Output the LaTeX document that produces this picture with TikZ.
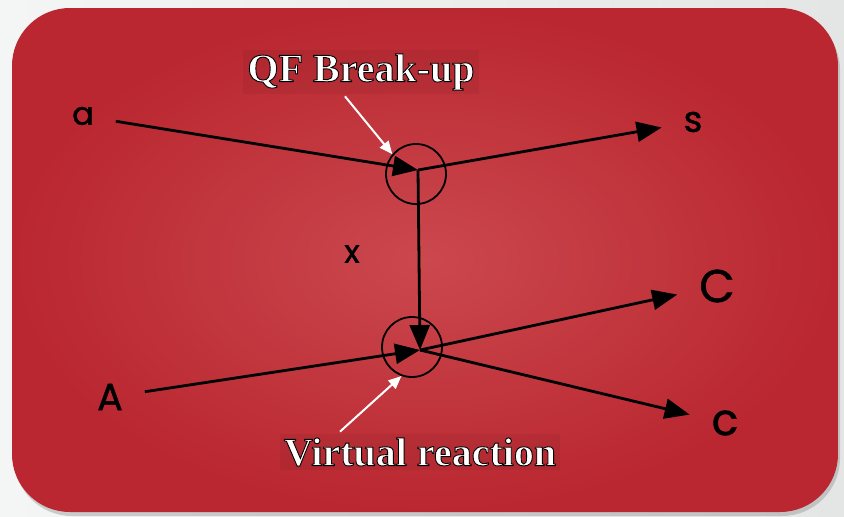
\documentclass[tikz,border=0pt]{standalone}
\usepackage{fontspec}
\setmainfont{Liberation Serif}
\newfontfamily\handfont{Poppins}[FakeBold=1.2]
\usetikzlibrary{arrows.meta, positioning, shadows}

\definecolor{slidegray}{HTML}{E4E6E6}
\definecolor{boxred}{HTML}{BA2730}
\definecolor{boxredlight}{HTML}{CB484E}

% white letters with a black outline
\newcommand{\outlined}[1]{\textcolor{white}{\special{pdf:literal direct 0 G 0.9 w 2 Tr}#1\special{pdf:literal direct 0 Tr}}}

\begin{document}
\begin{tikzpicture} [
    x=1pt, y=-1pt,
    letter/.style={inner sep=2pt, outer sep=20pt, font=\handfont\fontsize{38}{40}\selectfont},
    ring/.style={circle, draw, line width=1.8pt, minimum size=60pt, inner sep=0pt},
    label/.style={inner sep=4pt, font=\bfseries\fontsize{40}{44}\selectfont, fill=black, fill opacity=0.05, text opacity=1},
    line/.style={draw, line width=2.8pt, -{Triangle[length=25pt, width=20pt]}},
    pointer/.style={draw=white, line width=2pt, -{Triangle[length=13pt, width=11pt]}}
]
    % Background
    \useasboundingbox (0,0) rectangle (844,517);
    \shade[left color=white!60!slidegray, right color=slidegray] (0,0) rectangle (844,517);
    \shade[inner color=boxredlight, outer color=boxred, rounded corners=58pt,
        drop shadow={shadow xshift=2pt, shadow yshift=-4pt, opacity=0.35}]
        (12,8) rectangle (838,512);

    % Vertices
    \coordinate (v1) at (418,170);
    \coordinate (v2) at (420,350);
    \node[ring] (ring1) at (416,174) {};
    \node[ring] (ring2) at (412,347) {};

    % Nodes
    \node[letter, font=\handfont\fontsize{32}{34}\selectfont] (la) at (83,116) {a};
    \node[letter, font=\handfont\fontsize{36}{38}\selectfont] (ls) at (693,122) {s};
    \node[letter] (lA) at (110,397) {A};
    \node[letter, font=\handfont\fontsize{46}{48}\selectfont] (lC) at (717,286) {C};
    \node[letter, font=\handfont\fontsize{44}{46}\selectfont] (lc) at (725,423) {c};
    \node[letter, font=\handfont\fontsize{32}{34}\selectfont] (lx) at (352,254) {x};

    \node[label] (qf) at (361,72) {\outlined{QF Break-up}};
    \node[label] (vr) at (420,452) {\outlined{Virtual reaction}};

    % Arrows
    \path [line] (la) -- (v1);
    \path [line] (v1) -- (ls);
    \path [line] (v1) -- (v2);
    \path [line] (lA) -- (v2);
    \path [line] (v2) -- (lC);
    \path [line] (v2) -- (lc);

    \path [pointer] ([xshift=-16pt, yshift=-2pt]qf.south) -- (ring1.140);
    \path [pointer] ([xshift=-80pt, yshift=2pt]vr.north) -- (ring2.250);

\end{tikzpicture}
\end{document}
